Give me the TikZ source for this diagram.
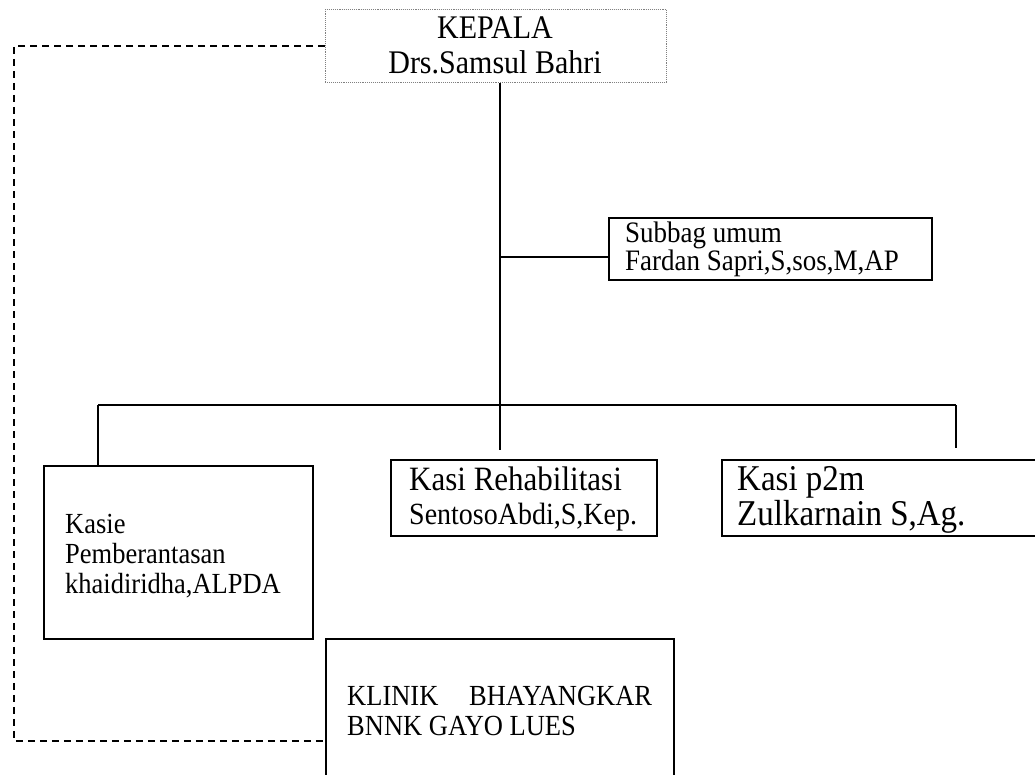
\documentclass[tikz,border=0pt]{standalone}
\usepackage{fontspec}
\setmainfont{Liberation Serif}
\newcommand{\tallt}[1]{\scalebox{1}[1.1]{#1}}
\begin{document}
\begin{tikzpicture}[x=1pt,y=-1pt,
  orgbox/.style={draw=black, line width=2pt, inner sep=0pt, anchor=north west},
  conn/.style={draw=black, line width=1.8pt},
  dashconn/.style={draw=black, line width=1.8pt, dash pattern=on 7pt off 5pt},
  txt/.style={anchor=base west, inner sep=0pt},
  big/.style={font=\fontsize{30}{36}\selectfont},
  mid/.style={font=\fontsize{26.5}{31}\selectfont},
]
\useasboundingbox (0,0) rectangle (1035,774);
\fill[white] (0,0) rectangle (1035,774);
\clip (0,0) rectangle (1035,774);

% boxes
\node[draw=gray, densely dotted, line width=0.9pt, inner sep=0pt, anchor=north west,
      minimum width=341pt, minimum height=73pt] (kepala) at (325,9) {};
\node[orgbox, minimum width=323pt, minimum height=62pt] (subbag) at (608,217) {};
\node[orgbox, minimum width=269pt, minimum height=173pt] (kasie) at (43,465) {};
\node[orgbox, minimum width=266pt, minimum height=76pt] (rehab) at (390,459) {};
\node[orgbox, minimum width=340pt, minimum height=76pt] (p2m) at (721,459) {};
\node[orgbox, minimum width=348pt, minimum height=150pt] (clinic) at (325,638) {};

% texts
\node[big, anchor=base, inner sep=0pt] (kepalaA) at (495,38) {\tallt{KEPALA}};
\node[big, anchor=base, inner sep=0pt] (kepalaB) at (495,73) {\tallt{Drs.Samsul Bahri}};

\node[txt, font=\fontsize{27}{31}\selectfont] (subbagA) at (625,242) {\tallt{Subbag umum}};
\node[txt, font=\fontsize{27}{31}\selectfont] (subbagB) at (625,270) {\tallt{Fardan Sapri,S,sos,M,AP}};

\node[txt, mid] (kasieA) at (65,533) {\tallt{Kasie}};
\node[txt, mid] (kasieB) at (65,563) {\tallt{Pemberantasan}};
\node[txt, mid] (kasieC) at (65,593) {\tallt{khaidiridha,ALPDA}};

\node[txt, font=\fontsize{31}{36}\selectfont] (rehabA) at (409,490) {\tallt{Kasi Rehabilitasi}};
\node[txt, font=\fontsize{28}{33}\selectfont] (rehabB) at (409,524) {\tallt{SentosoAbdi,S,Kep.}};

\node[txt, font=\fontsize{33}{38}\selectfont] (p2mA) at (737,490) {\tallt{Kasi p2m}};
\node[txt, font=\fontsize{33}{38}\selectfont] (p2mB) at (737,525) {\tallt{Zulkarnain S,Ag.}};

\node[txt, mid] (clinicA) at (347,705) {\tallt{\makebox[305pt][l]{KLINIK\hfill BHAYANGKAR}}};
\node[txt, mid] (clinicB) at (347,735) {\tallt{BNNK GAYO LUES}};

% connectors
\coordinate (bus) at (500,405);
\coordinate (trunkend) at (500,450);
\coordinate (subjoin) at (500,257);
\coordinate (busL) at (98,405);
\coordinate (busR) at (956,405);
\coordinate (p2mend) at (956,448);
\coordinate (dl) at (14,741);

\draw[conn] (kepala.south -| bus) -- (trunkend);
\draw[conn] (subjoin) -- (subjoin -| subbag.west);
\draw[conn] (busL) -- (busR);
\draw[conn] (busL) -- (busL |- kasie.north);
\draw[conn] (busR) -- (p2mend);
\draw[dashconn] (kepala.west) -| (dl) -- (dl -| clinic.west);
\end{tikzpicture}
\end{document}
